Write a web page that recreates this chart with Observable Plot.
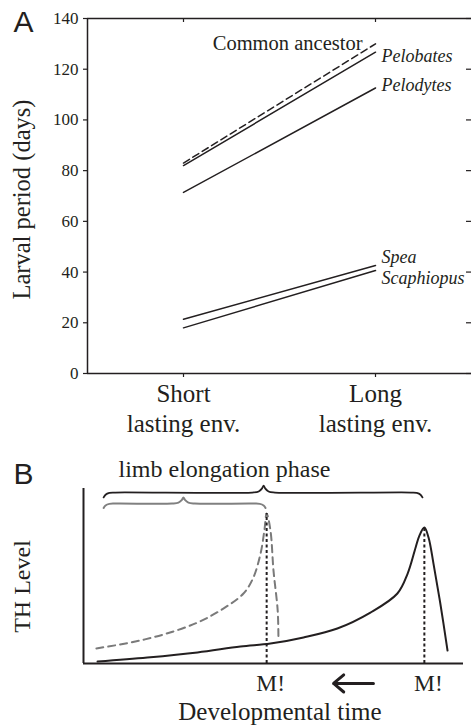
<!DOCTYPE html>
<html><head><meta charset="utf-8">
<script src="https://cdn.jsdelivr.net/npm/d3@7"></script>
<script src="https://cdn.jsdelivr.net/npm/@observablehq/plot@0.6"></script>
<style>
body{margin:0;background:#fff;}
#chart{width:471px;height:727px;overflow:hidden;}
#chart svg{display:block;}
</style></head><body><div id="chart"></div>
<script>
// ---------- Panel A data ----------
const envCategories = ["Short", "Long"];
const envLabels = ["Short\nlasting env.", "Long\nlasting env."];
const species = ["Common ancestor", "Pelobates", "Pelodytes", "Spea", "Scaphiopus"];
const shortLarval = [83, 82, 71.4, 21.4, 18.0];
const longLarval = [130, 126.7, 112.6, 42.6, 40.6];
const speciesLabelY = [130, 125, 113.6, 45.7, 37.7];
const larvalTicks = [0, 20, 40, 60, 80, 100, 120, 140];

// ---------- Panel B data ----------
const solidTime = [3.7, 16.8, 30.0, 41.3, 49.2, 57.9, 66.8, 75.5, 82.6, 85.3, 87.4, 88.4, 89.7, 90.8, 92.1, 93.9, 95.8];
const solidTH   = [1.1, 3.4, 6.3, 9.7, 11.4, 14.9, 20.0, 29.1, 40.0, 51.4, 66.3, 73.1, 77.7, 72.0, 57.1, 34.3, 7.4];
const dashedTime = [3.4, 12.4, 21.1, 30.0, 36.8, 42.1, 44.7, 46.6, 47.6, 48.2, 49.2, 50.0, 51.1, 51.3];
const dashedTH   = [8.6, 12.0, 16.6, 23.4, 31.4, 40.0, 49.1, 62.9, 76.0, 85.7, 76.0, 53.1, 30.3, 14.3];
const metamorphosisTime = [48.2, 89.7];
const metamorphosisTH = [85.7, 77.7];
const braceStart = [5.3, 5.3];
const braceEnd = [89.2, 47.9];
const braceNib = [47.4, 26.3];
const braceLevel = [97.7, 91.4];
const braceEndDrop = [2.8, 2.5];
const braceNibRise = [4.0, 3.5];
const arrowFrom = 76.3, arrowTo = 65.8, arrowLevel = -11.4;

// ---------- build tables ----------
const envIndex = e => envCategories.indexOf(e);
const larvalRows = species.flatMap((s, i) => [
  {species: s, env: "Short", days: shortLarval[i]},
  {species: s, env: "Long", days: longLarval[i]}
]);
const labelRows = species.map((s, i) => ({species: s, env: "Long", y: speciesLabelY[i]}));

const solidRows = solidTime.map((t, i) => ({t, th: solidTH[i]}));
const dashedRows = dashedTime.map((t, i) => ({t, th: dashedTH[i]}));
const peakRows = metamorphosisTime.map((t, i) => ({t, th: metamorphosisTH[i]}));

function bracePath(i) {
  const a = braceStart[i], b = braceEnd[i], m = braceNib[i], L = braceLevel[i];
  const d = braceEndDrop[i], n = braceNibRise[i];
  return [
    [a, L - d], [a + 0.5, L - 0.45 * d], [a + 1.5, L - 0.08 * d], [a + 3, L],
    [m - 3, L], [m - 1.3, L + 0.15 * n], [m - 0.4, L + 0.6 * n], [m, L + n],
    [m + 0.4, L + 0.6 * n], [m + 1.3, L + 0.15 * n], [m + 3, L],
    [b - 3, L], [b - 1.5, L - 0.08 * d], [b - 0.5, L - 0.45 * d], [b, L - d]
  ].map(([x, y]) => ({x, y}));
}

const serif = "'Liberation Serif', 'Times New Roman', serif";
const sans = "'Liberation Sans', Arial, sans-serif";
const ink = "#231f20";

// ---------- Panel A ----------
const plotA = Plot.plot({
  width: 471, height: 450,
  marginTop: 18, marginLeft: 87, marginRight: 0, marginBottom: 77,
  style: {fontFamily: serif, color: ink, background: "#fff", overflow: "visible"},
  x: {domain: [-0.5, 1.5], label: null},
  y: {domain: [0, 140], label: null},
  marks: [
    Plot.axisY({ticks: larvalTicks, tickSize: 4, tickPadding: 5, fontSize: 17, fontFamily: serif, label: null, strokeWidth: 1.2}),
    Plot.axisX({ticks: envCategories.map(envIndex), tickSize: 4, tickPadding: 4, fontSize: 25, fontFamily: serif,
      lineHeight: 1.17, label: null, strokeWidth: 1.2, tickFormat: i => envLabels[i]}),
    Plot.ruleX([-0.5], {stroke: ink, strokeWidth: 1.5}),
    Plot.ruleY([0], {stroke: ink, strokeWidth: 1.5}),
    Plot.ruleY([140], {stroke: ink, strokeWidth: 1.5}),
    Plot.ruleY(larvalTicks, {insetLeft: 379, stroke: ink, strokeWidth: 1.2}),
    Plot.ruleX(envCategories.map(envIndex), {insetBottom: 351, stroke: ink, strokeWidth: 1.2}),
    Plot.line(larvalRows.filter(d => d.species !== "Common ancestor"),
      {x: d => envIndex(d.env), y: "days", z: "species", stroke: ink, strokeWidth: 1.5}),
    Plot.line(larvalRows.filter(d => d.species === "Common ancestor"),
      {x: d => envIndex(d.env), y: "days", stroke: ink, strokeWidth: 1.5, strokeDasharray: "7,4"}),
    Plot.text(labelRows.filter(d => d.species !== "Common ancestor"),
      {x: d => envIndex(d.env), y: "y", text: "species", textAnchor: "start", dx: 6, fontSize: 18,
       fontStyle: "italic", fontFamily: serif, fill: ink}),
    Plot.text(labelRows.filter(d => d.species === "Common ancestor"),
      {x: d => envIndex(d.env), y: "y", text: "species", textAnchor: "end", dx: -13, fontSize: 20.5,
       fontFamily: serif, fill: ink}),
    Plot.text(["Larval period (days)"], {frameAnchor: "left", y: () => 68.6, rotate: -90, dx: -65,
      textAnchor: "middle", lineAnchor: "middle", fontSize: 24.5, fontFamily: serif, fill: ink}),
    Plot.text(["A"], {frameAnchor: "top-left", dx: -74, dy: -8, lineAnchor: "top", textAnchor: "start",
      fontSize: 30, fontFamily: sans, fill: ink})
  ]
});

// ---------- Panel B ----------
const plotB = Plot.plot({
  width: 471, height: 277,
  marginTop: 38, marginLeft: 83, marginRight: 8, marginBottom: 64,
  style: {fontFamily: serif, color: ink, background: "#fff", overflow: "visible"},
  x: {domain: [0, 100], axis: null},
  y: {domain: [0, 100], axis: null},
  marks: [
    Plot.ruleX([0], {stroke: ink, strokeWidth: 2}),
    Plot.ruleY([0], {stroke: ink, strokeWidth: 2}),
    Plot.line(dashedRows, {x: "t", y: "th", curve: "catmull-rom", stroke: "#7a7a7a", strokeWidth: 2, strokeDasharray: "7,5"}),
    Plot.line(solidRows, {x: "t", y: "th", curve: "catmull-rom", stroke: ink, strokeWidth: 2}),
    Plot.ruleX(peakRows, {x: "t", y1: 0, y2: "th", stroke: ink, strokeWidth: 2, strokeDasharray: "3,2.5"}),
    Plot.line(bracePath(0), {x: "x", y: "y", curve: "catmull-rom", stroke: ink, strokeWidth: 1.8}),
    Plot.line(bracePath(1), {x: "x", y: "y", curve: "catmull-rom", stroke: "#808080", strokeWidth: 2}),
    Plot.text(["limb elongation phase"], {x: () => 37.1, y: () => 111.1, fontSize: 24, fontFamily: serif, fill: ink}),
    Plot.text(["TH Level"], {frameAnchor: "left", y: () => 44, rotate: -90, dx: -61, textAnchor: "middle",
      lineAnchor: "middle", fontSize: 24, fontFamily: serif, fill: ink}),
    Plot.text(metamorphosisTime, {x: d => d, y: () => 0, dy: 20, dx: 4, text: () => "M!", fontSize: 23.5, fontFamily: serif, fill: ink}),
    Plot.arrow([0], {x1: () => arrowFrom, x2: () => arrowTo, y1: () => arrowLevel, y2: () => arrowLevel,
      stroke: ink, strokeWidth: 3, headLength: 9, headAngle: 80}),
    Plot.text(["Developmental time"], {x: () => 51.7, y: () => 0, dy: 48, fontSize: 25, fontFamily: serif, fill: ink}),
    Plot.text(["B"], {frameAnchor: "top-left", dx: -70, dy: -26, lineAnchor: "top", textAnchor: "start",
      fontSize: 30, fontFamily: sans, fill: ink})
  ]
});

const chart = document.getElementById("chart");
chart.appendChild(plotA);
chart.appendChild(plotB);
</script>
</body></html>
